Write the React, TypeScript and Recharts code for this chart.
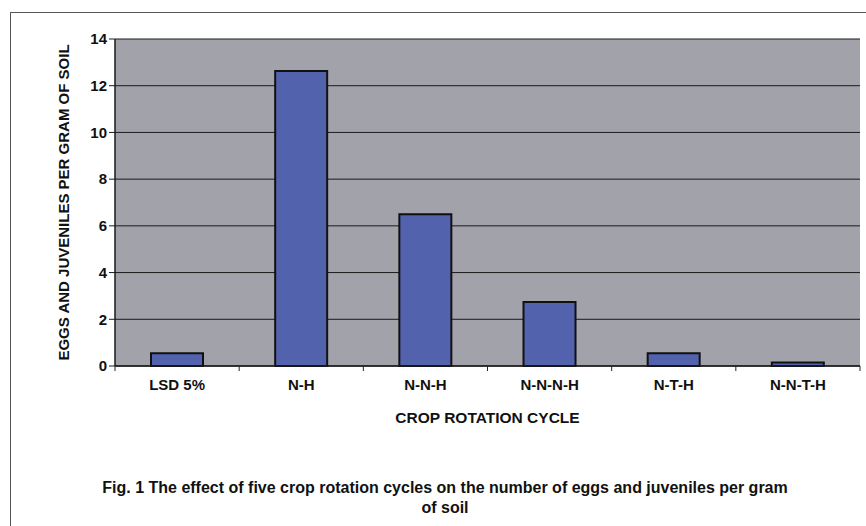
import React from "react";
import { BarChart, Bar, XAxis, YAxis, CartesianGrid, Label } from "recharts";

const categories = ["LSD 5%", "N-H", "N-N-H", "N-N-N-H", "N-T-H", "N-N-T-H"];
const eggsPerGram = [0.55, 12.63, 6.5, 2.74, 0.55, 0.15];
const yTicks = [0, 2, 4, 6, 8, 10, 12, 14];

const data = categories.map((c, i) => ({ cycle: c, value: eggsPerGram[i] }));

const FONT = "'Liberation Sans', Arial, sans-serif";
const W = 866;
const H = 526;
const M = { top: 39, right: 6, left: 75, bottom: 130 };
const Y_W = 40;
const band = (W - M.left - Y_W - M.right) / categories.length;

function CatTick(props: any) {
  const { x, y, payload, index } = props;
  const last = index === categories.length - 1;
  return (
    <g>
      <line x1={x - band / 2} x2={x - band / 2} y1={y - 8} y2={y - 3} stroke="#222" />
      {last && <line x1={x + band / 2} x2={x + band / 2} y1={y - 8} y2={y - 3} stroke="#222" />}
      <text x={x} y={y + 16} textAnchor="middle" fontSize={15} fontWeight="bold" fill="#111" fontFamily={FONT}>
        {payload.value}
      </text>
    </g>
  );
}

export default function App() {
  return (
    <div style={{ position: "absolute", left: 0, top: 0, width: W, height: H, overflow: "hidden", background: "#fff", fontFamily: FONT }}>
      <div style={{ position: "absolute", left: 10, top: 12, width: 900, height: 600, border: "1.5px solid #555" }} />
      <div style={{ position: "absolute", left: 0, top: 0 }}>
        <BarChart width={W} height={H} data={data} margin={M} barCategoryGap="29%">
          <CartesianGrid vertical={false} stroke="#1a1a1a" fill="#a2a2aa" fillOpacity={1} />
          <XAxis
            dataKey="cycle"
            tick={<CatTick />}
            tickLine={false}
            axisLine={{ stroke: "#1a1a1a", strokeWidth: 1.5 }}
            height={30}
            interval={0}
          >
            <Label value="CROP ROTATION CYCLE" position="insideBottom" offset={-27} style={{ fontSize: 15.5, fontWeight: "bold", fill: "#111", fontFamily: FONT }} />
          </XAxis>
          <YAxis
            domain={[0, 14]}
            ticks={yTicks}
            width={Y_W}
            tickSize={6}
            tickLine={{ stroke: "#1a1a1a" }}
            axisLine={{ stroke: "#1a1a1a", strokeWidth: 1.5 }}
            tick={{ fontSize: 15, fontWeight: "bold", fill: "#111", fontFamily: FONT }}
          >
            <Label
              value="EGGS AND JUVENILES PER GRAM OF SOIL"
              angle={-90}
              position="insideLeft"
              offset={-11}
              style={{ fontSize: 15, fontWeight: "bold", fill: "#111", fontFamily: FONT, textAnchor: "middle" }}
            />
          </YAxis>
          <Bar dataKey="value" fill="#5262ad" stroke="#111" strokeWidth={2} isAnimationActive={false} />
        </BarChart>
      </div>
      <div style={{ position: "absolute", left: 40, width: 810, top: 478, textAlign: "center", fontSize: 16, fontWeight: "bold", lineHeight: "20px", color: "#111", fontFamily: FONT }}>
        Fig. 1 The effect of five crop rotation cycles on the number of eggs and juveniles per gram
        <br />
        of soil
      </div>
    </div>
  );
}
